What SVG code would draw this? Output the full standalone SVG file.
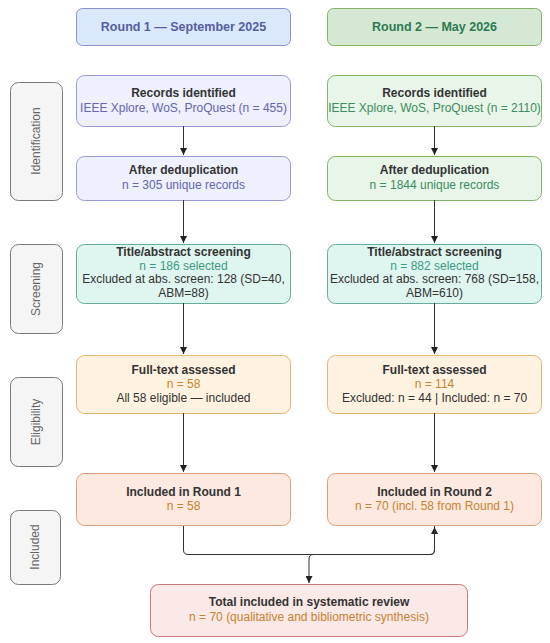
<svg xmlns="http://www.w3.org/2000/svg" width="550" height="643" viewBox="0 0 550 643">
<style>
text{font-family:"Liberation Sans",Arial,sans-serif;font-size:12px;text-anchor:middle;fill:#333}
.b{font-weight:bold}
.hb{font-size:12.5px;font-weight:bold}
.stage rect{fill:#f5f5f5;stroke:#7a7a7a;stroke-width:1}
.stage text{fill:#666}
.c{fill:none;stroke:#333;stroke-width:1}
.blue{fill:#eef0fd;stroke:#9a9ad8}
.green{fill:#e8f5e9;stroke:#82b366}
.mint{fill:#dff5ef;stroke:#67ab9f}
.orange{fill:#fff2e0;stroke:#e3b573}
.peach{fill:#fde9e0;stroke:#dba07a}
.red{fill:#fbe9e7;stroke:#c77777}
.tb{fill:#6466b0}.tg{fill:#3b8c5c}.tm{fill:#3d9a82}.to{fill:#c8822f}
</style>
<defs>
<marker id="ah" viewBox="0 0 10 10" refX="10" refY="5" markerWidth="7" markerHeight="7" orient="auto" markerUnits="userSpaceOnUse">
<path d="M0,0 L10,5 L0,10 z" fill="#222"/>
</marker>
</defs>

<g id="header1"><rect x="76.5" y="8.5" width="214" height="37" rx="6" fill="#dae8fc" stroke="#8c8fd0"/><text x="183.5" y="31" class="hb" style="fill:#545ea0">Round 1 — September 2025</text></g>
<g id="header2"><rect x="327.5" y="8.5" width="214" height="37" rx="6" fill="#d5e8d4" stroke="#82b366"/><text x="434.5" y="31" class="hb" style="fill:#2d7a4f">Round 2 — May 2026</text></g>

<g id="stage-identification" class="stage"><rect x="10.5" y="82.5" width="52" height="118" rx="8"/><text transform="translate(40,141) rotate(-90)">Identification</text></g>
<g id="stage-screening" class="stage"><rect x="10.5" y="244.5" width="52" height="89" rx="8"/><text transform="translate(40,289) rotate(-90)">Screening</text></g>
<g id="stage-eligibility" class="stage"><rect x="10.5" y="377.5" width="52" height="89" rx="8"/><text transform="translate(40,422) rotate(-90)">Eligibility</text></g>
<g id="stage-included" class="stage"><rect x="10.5" y="510.5" width="50" height="74" rx="8"/><text transform="translate(39,547) rotate(-90)">Included</text></g>

<g id="r1-identified"><rect class="blue" x="76.5" y="75.5" width="214" height="51" rx="8"/><text x="183.5" y="97" class="b">Records identified</text><text x="183.5" y="112" class="tb">IEEE Xplore, WoS, ProQuest (n = 455)</text></g>
<g id="r1-dedup"><rect class="blue" x="76.5" y="156.5" width="214" height="44" rx="8"/><text x="183.5" y="174" class="b">After deduplication</text><text x="183.5" y="189" class="tb">n = 305 unique records</text></g>
<g id="r1-screening"><rect class="mint" x="76.5" y="244.5" width="214" height="59" rx="8"/><text x="183.5" y="256" class="b">Title/abstract screening</text><text x="183.5" y="269.5" class="tm">n = 186 selected</text><text x="183.5" y="283">Excluded at abs. screen: 128 (SD=40,</text><text x="183.5" y="296.5">ABM=88)</text></g>
<g id="r1-fulltext"><rect class="orange" x="76.5" y="355.5" width="214" height="58" rx="8"/><text x="183.5" y="374" class="b">Full-text assessed</text><text x="183.5" y="388" class="to">n = 58</text><text x="183.5" y="402">All 58 eligible — included</text></g>
<g id="r1-included"><rect class="peach" x="76.5" y="473.5" width="214" height="52" rx="8"/><text x="183.5" y="496" class="b">Included in Round 1</text><text x="183.5" y="510" class="to">n = 58</text></g>

<g id="r2-identified"><rect class="green" x="327.5" y="75.5" width="214" height="51" rx="8"/><text x="434.5" y="97" class="b">Records identified</text><text x="434.5" y="112" class="tg">IEEE Xplore, WoS, ProQuest (n = 2110)</text></g>
<g id="r2-dedup"><rect class="green" x="327.5" y="156.5" width="214" height="44" rx="8"/><text x="434.5" y="174" class="b">After deduplication</text><text x="434.5" y="189" class="tg">n = 1844 unique records</text></g>
<g id="r2-screening"><rect class="mint" x="327.5" y="244.5" width="214" height="59" rx="8"/><text x="434.5" y="256" class="b">Title/abstract screening</text><text x="434.5" y="269.5" class="tm">n = 882 selected</text><text x="434.5" y="283">Excluded at abs. screen: 768 (SD=158,</text><text x="434.5" y="296.5">ABM=610)</text></g>
<g id="r2-fulltext"><rect class="orange" x="327.5" y="355.5" width="214" height="58" rx="8"/><text x="434.5" y="374" class="b">Full-text assessed</text><text x="434.5" y="388" class="to">n = 114</text><text x="434.5" y="402">Excluded: n = 44 | Included: n = 70</text></g>
<g id="r2-included"><rect class="peach" x="327.5" y="473.5" width="214" height="52" rx="8"/><text x="434.5" y="496" class="b">Included in Round 2</text><text x="434.5" y="510" class="to">n = 70 (incl. 58 from Round 1)</text></g>

<g id="total"><rect class="red" x="150.5" y="584.5" width="317" height="52" rx="8"/><text x="309" y="606" class="b">Total included in systematic review</text><text x="309" y="621" class="to">n = 70 (qualitative and bibliometric synthesis)</text></g>

<g id="connectors">
<path class="c" d="M183.5,126 V155" marker-end="url(#ah)"/>
<path class="c" d="M183.5,200 V243" marker-end="url(#ah)"/>
<path class="c" d="M183.5,303 V354" marker-end="url(#ah)"/>
<path class="c" d="M183.5,413 V472" marker-end="url(#ah)"/>
<path class="c" d="M434.5,126 V155" marker-end="url(#ah)"/>
<path class="c" d="M434.5,200 V243" marker-end="url(#ah)"/>
<path class="c" d="M434.5,303 V354" marker-end="url(#ah)"/>
<path class="c" d="M434.5,413 V472" marker-end="url(#ah)"/>
<path class="c" d="M183.5,526 V550 Q183.5,554.5 188,554.5 H430 Q434.5,554.5 434.5,550 V527" marker-end="url(#ah)"/>
<path class="c" d="M434.5,526 V550 Q434.5,554.5 430,554.5 H313.5 Q309,554.5 309,559 V583" marker-end="url(#ah)"/>
</g>
</svg>
